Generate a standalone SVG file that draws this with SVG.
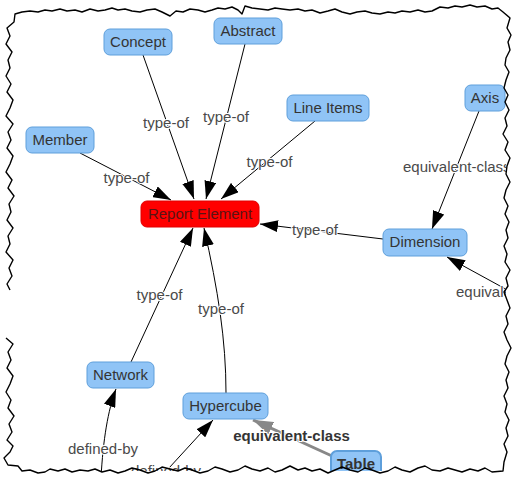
<svg xmlns="http://www.w3.org/2000/svg" width="517" height="483" viewBox="0 0 517 483">
  <style>
    .node rect { fill: #90C4F6; stroke: #5E9FDB; stroke-width: 1; }
    .node text { font-family: "Liberation Sans", Arial, sans-serif; font-size: 15px; fill: #343434; text-anchor: middle; }
    .edge { fill: none; stroke: #000; stroke-width: 1; marker-end: url(#arr); }
    .elabel { font-family: "Liberation Sans", Arial, sans-serif; font-size: 15px; fill: #4a4a4a; text-anchor: middle; stroke: #fff; stroke-width: 2; paint-order: stroke; }
    .frame { fill: none; stroke: #000; stroke-width: 1.4; stroke-linejoin: round; }
  </style>
  <defs>
    <marker id="arr" markerUnits="userSpaceOnUse" markerWidth="19" markerHeight="12" refX="18" refY="6" orient="auto">
      <path d="M0,0 L18,6 L0,12 z" fill="#000"/>
    </marker>
    <marker id="arrg" markerUnits="userSpaceOnUse" markerWidth="21" markerHeight="14" refX="20" refY="7" orient="auto">
      <path d="M0,0 L20,7 L0,14 z" fill="#888"/>
    </marker>
    <clipPath id="clip">
      <rect x="10" y="10" width="496" height="461"/>
    </clipPath>
  </defs>
  <rect width="517" height="483" fill="#fff"/>

  <g clip-path="url(#clip)">
    <g id="connectors">
      <path class="edge" d="M143,55 L194,199"/>
      <path class="edge" d="M245,44 L206,199"/>
      <path class="edge" d="M315,121 L221,199"/>
      <path class="edge" d="M80,153 L171,200"/>
      <path class="edge" d="M383,239 L260,224"/>
      <path class="edge" d="M479,111 L432,229"/>
      <path class="edge" d="M522,298 L447,257"/>
      <path class="edge" d="M131,362 L193,228"/>
      <path class="edge" d="M226,393 C226,340 218,290 204,228"/>
      <path class="edge" d="M101,478 C103,440 108,410 116,389"/>
      <path class="edge" d="M158,480 L213,420"/>
      <path d="M332,456 L253,420" fill="none" stroke="#888" stroke-width="3" marker-end="url(#arrg)"/>

      <text class="elabel" x="166" y="127.5">type-of</text>
      <text class="elabel" x="226" y="121.8">type-of</text>
      <text class="elabel" x="269.5" y="166.8">type-of</text>
      <text class="elabel" x="126.5" y="182.8">type-of</text>
      <text class="elabel" x="315" y="235">type-of</text>
      <text class="elabel" x="403" y="172" style="text-anchor:start">equivalent-class</text>
      <text class="elabel" x="456" y="297" style="text-anchor:start">equivalent-class</text>
      <text class="elabel" x="159.5" y="299.5">type-of</text>
      <text class="elabel" x="221" y="313.5">type-of</text>
      <text class="elabel" x="103" y="454">defined-by</text>
      <text class="elabel" x="166" y="476">defined-by</text>
      <text class="elabel" x="291.5" y="441" style="font-weight:bold;fill:#343434">equivalent-class</text>
    </g>

    <g id="concept" class="node"><rect x="104" y="29" width="68" height="26" rx="6"/><text x="138" y="46.5">Concept</text></g>
    <g id="abstract" class="node"><rect x="214" y="18" width="68" height="26" rx="6"/><text x="248" y="35.5">Abstract</text></g>
    <g id="line-items" class="node"><rect x="287" y="95" width="82" height="26" rx="6"/><text x="328" y="112.5">Line Items</text></g>
    <g id="axis" class="node"><rect x="465" y="85" width="40" height="26" rx="6"/><text x="485" y="102.5">Axis</text></g>
    <g id="member" class="node"><rect x="26" y="127" width="68" height="26" rx="6"/><text x="60" y="144.5">Member</text></g>
    <g id="report-element" class="node"><rect x="141" y="201" width="118" height="26" rx="6" style="fill:#FF0000;stroke:#E00000"/><text x="200" y="218.5" style="fill:#5a1414">Report Element</text></g>
    <g id="dimension" class="node"><rect x="383" y="229" width="84" height="27" rx="6"/><text x="425" y="247">Dimension</text></g>
    <g id="network" class="node"><rect x="87" y="362" width="67" height="26" rx="6"/><text x="120.5" y="379.5">Network</text></g>
    <g id="hypercube" class="node"><rect x="183" y="393" width="85" height="26" rx="6"/><text x="225.5" y="410.5">Hypercube</text></g>
    <g id="table" class="node"><rect x="331" y="451" width="50" height="26" rx="6" style="stroke-width:2"/><text x="356" y="468.5" style="font-weight:bold">Table</text></g>
  </g>

  <path class="frame" d="M6,338 L13,344 L8,352 L11,360 L7,368 L13,376 L10,384 L6,392 L11,400 L8,408 L14,416 L9,424 L12,432 L7,440 L13,446 L10,452 L4,458 L8,465 L18,466 L22,471 L30,470 L38,473 L45,472 L50,469 L58,471 L65,469 L72,472 L80,470 L88,471 L95,469 L102,472 L110,470 L118,473 L125,471 L132,468 L140,470 L148,473 L155,471 L162,467 L170,469 L178,471 L185,468 L192,470 L200,473 L208,471 L215,467 L222,469 L230,472 L238,470 L245,466 L252,469 L260,471 L268,468 L275,472 L282,470 L290,466 L298,470 L305,468 L312,471 L320,469 L328,473 L335,470 L342,467 L350,470 L358,472 L365,468 L372,470 L380,473 L388,471 L395,467 L402,470 L410,472 L418,468 L425,466 L432,470 L440,471 L448,468 L455,470 L462,472 L470,469 L478,471 L485,468 L492,472 L503,471 L504,462 L507,452 L504,444 L508,436 L506,428 L509,420 L505,412 L507,404 L504,396 L508,388 L506,380 L509,372 L505,364 L507,356 L511,348 L507,340 L504,332 L508,324 L506,316 L510,308 L507,300 L504,292 L508,286 L506,278 L510,270 L505,262 L507,254 L504,246 L508,238 L506,230 L509,222 L505,214 L508,206 L504,198 L506,190 L510,182 L506,174 L507,166 L510,158 L505,150 L508,142 L503,134 L507,126 L505,118 L509,110 L505,102 L508,95 L504,88 L506,80 L509,72 L505,65 L506,58 L510,50 L508,42 L511,35 L507,28 L510,18 L503,12 L498,8 L492,9 L485,6 L477,7 L470,5 L462,7 L455,6 L448,8 L440,7 L432,11 L425,12 L418,10 L410,12 L402,11 L395,13 L388,12 L380,14 L372,13 L365,11 L357,12 L350,14 L342,12 L335,9 L328,11 L320,13 L312,10 L305,11 L298,9 L290,10 L282,9 L275,8 L268,10 L260,9 L252,8 L245,6 L242,14 L238,10 L232,7 L225,9 L218,8 L212,10 L205,12 L198,10 L190,9 L183,12 L176,11 L170,16 L162,12 L155,9 L147,10 L140,12 L132,11 L125,9 L118,10 L112,8 L105,10 L98,11 L90,9 L82,12 L75,10 L67,11 L60,9 L52,11 L45,10 L38,12 L30,11 L22,12 L15,14 L14,22 L7,28 L10,36 L6,44 L12,52 L8,60 L10,68 L6,76 L11,84 L7,92 L13,100 L10,108 L6,116 L13,124 L8,132 L11,140 L7,148 L13,156 L10,164 L6,172 L12,180 L8,188 L14,196 L9,204 L11,212 L7,220 L13,228 L8,236 L10,244 L6,252 L13,260 L9,268 L12,276 L7,284 L10,290"/>
</svg>
